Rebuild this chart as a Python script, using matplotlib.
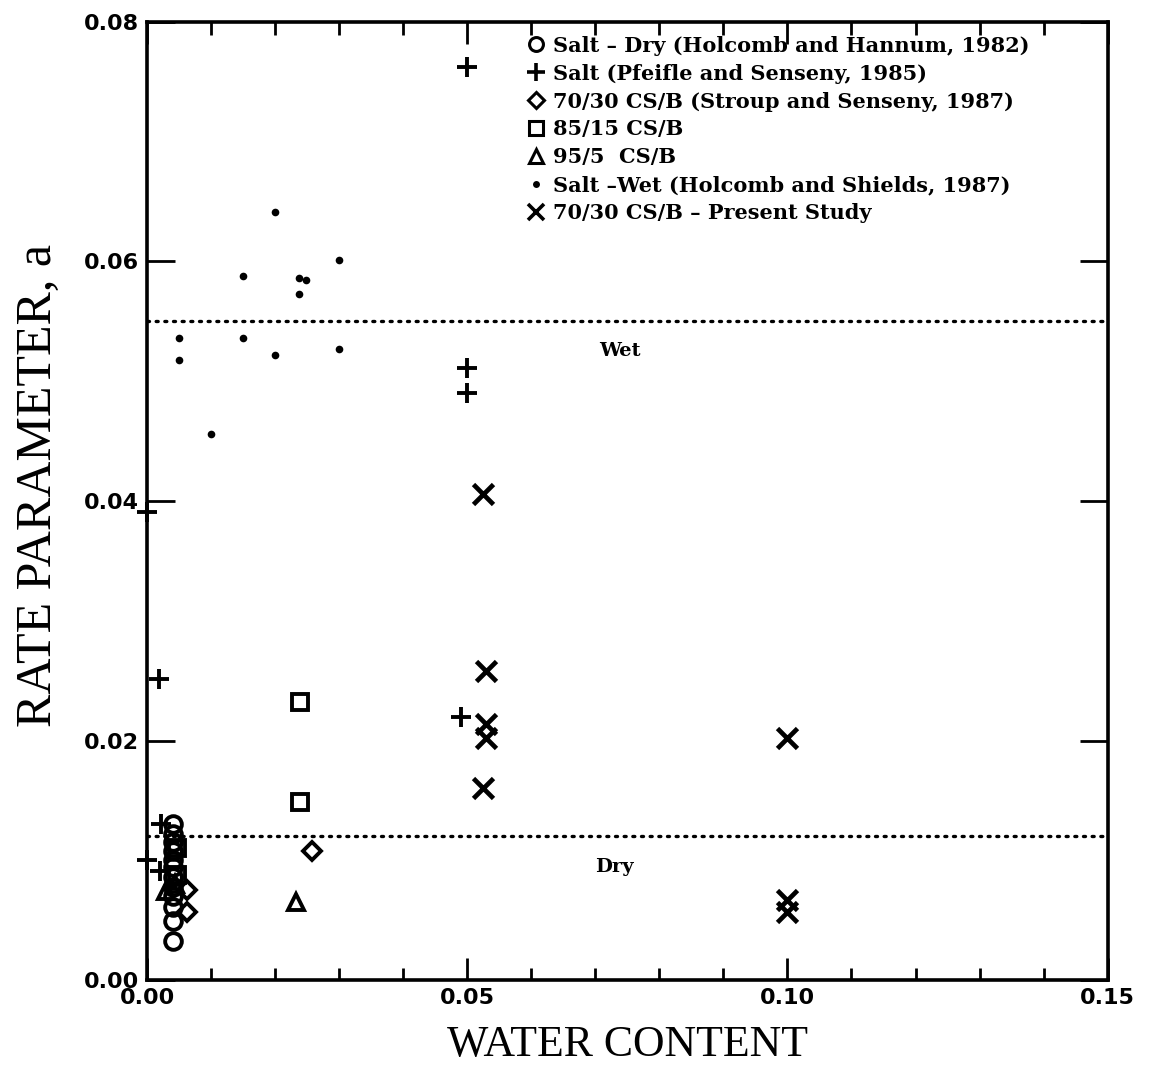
import numpy as np
import matplotlib
matplotlib.use("Agg")
import matplotlib.pyplot as plt
from matplotlib.lines import Line2D
from matplotlib.ticker import MultipleLocator

# Salt - dry (Holcomb and Hannum, 1982)
dry_x = [0.004] * 12
dry_y = [0.0130, 0.0122, 0.0115, 0.0108, 0.0100, 0.0094, 0.0086, 0.0078,
         0.0070, 0.0061, 0.0049, 0.0033]

# Salt (Pfeifle and Senseny, 1985)
pf_x = [0.050, 0.050, 0.050, 0.049, 0.0019, 0.0022, 0.0020, 0.0, 0.0]
pf_y = [0.0762, 0.0511, 0.0490, 0.0220, 0.0251, 0.0130, 0.0091, 0.0391, 0.0100]

# 70/30 CS/B (Stroup and Senseny, 1987)
cs70_x = [0.0062, 0.0062, 0.0258]
cs70_y = [0.0075, 0.0057, 0.0108]

# 85/15 CS/B
cs85_x = [0.0239, 0.0239, 0.0046, 0.0046]
cs85_y = [0.0232, 0.0149, 0.0110, 0.0088]

# 95/5 CS/B
cs95_x = [0.0232, 0.0030, 0.0044]
cs95_y = [0.0065, 0.0074, 0.0080]

# Salt - wet (Holcomb and Shields, 1987)
wet_x = [0.020, 0.030, 0.015, 0.0237, 0.0248, 0.0237, 0.005, 0.015, 0.005,
         0.020, 0.030, 0.010]
wet_y = [0.0641, 0.0601, 0.0588, 0.0586, 0.0584, 0.0573, 0.0536, 0.0536,
         0.0518, 0.0522, 0.0527, 0.0456]

# 70/30 CS/B - present study
ps_x = [0.0524, 0.053, 0.053, 0.053, 0.0524, 0.100, 0.100, 0.100]
ps_y = [0.0406, 0.0258, 0.0214, 0.0202, 0.0160, 0.0202, 0.0067, 0.0057]

wet_level = 0.055
dry_level = 0.012

fig = plt.figure(figsize=(11.49, 10.83), dpi=100)
ax = fig.add_axes([0.128, 0.095, 0.836, 0.885])

kw = dict(linestyle="none", color="black", clip_on=False)
ax.plot(dry_x, dry_y, marker="o", ms=12, mfc="none", mew=2.8, **kw)
ax.plot(pf_x, pf_y, marker="+", ms=15, mew=2.8, **kw)
ax.plot(cs70_x, cs70_y, marker="D", ms=9, mfc="none", mew=2.8, **kw)
ax.plot(cs85_x, cs85_y, marker="s", ms=11, mfc="none", mew=2.8, **kw)
ax.plot(cs95_x, cs95_y, marker="^", ms=11, mfc="none", mew=2.8, **kw)
ax.plot(wet_x, wet_y, marker="o", ms=5.5, mfc="black", mew=0, **kw)
ax.plot(ps_x, ps_y, marker="x", ms=14, mew=3.4, **kw)

# wet and dry reference levels
ax.axhline(wet_level, color="black", lw=2.4, linestyle=(0, (0.6, 2.0)),
           dash_capstyle="round")
ax.axhline(dry_level, color="black", lw=2.4, linestyle=(0, (0.6, 2.0)),
           dash_capstyle="round")
ax.text(0.0738, wet_level - 0.0025, "Wet", fontsize=14, fontweight="bold",
        family="DejaVu Serif", ha="center", va="center")
ax.text(0.0729, dry_level - 0.0026, "Dry", fontsize=14, fontweight="bold",
        family="DejaVu Serif", ha="center", va="center")

ax.set_xlim(0, 0.15)
ax.set_ylim(0, 0.08)
ax.xaxis.set_major_locator(MultipleLocator(0.05))
ax.xaxis.set_minor_locator(MultipleLocator(0.01))
ax.yaxis.set_major_locator(MultipleLocator(0.02))
ax.tick_params(which="both", direction="in", top=True, right=True, width=2,
               labelsize=16, pad=6)
ax.tick_params(axis="x", which="major", length=16)
ax.tick_params(axis="x", which="minor", length=9)
ax.tick_params(axis="y", which="major", length=20)
ax.xaxis.set_major_formatter(lambda v, p: f"{v:.2f}")
ax.yaxis.set_major_formatter(lambda v, p: f"{v:.2f}")
for lab in ax.get_xticklabels() + ax.get_yticklabels():
    lab.set_fontweight("bold")
    lab.set_family("DejaVu Sans")
for sp in ax.spines.values():
    sp.set_linewidth(2.6)

ax.set_xlabel("WATER CONTENT", fontsize=31.5, family="Liberation Serif",
              labelpad=12)
ax.set_ylabel("RATE PARAMETER, a", fontsize=36, family="Liberation Serif")
ax.yaxis.set_label_coords(-0.089, 0.516)

labels = ["Salt \u2013 Dry (Holcomb and Hannum, 1982)",
          "Salt (Pfeifle and Senseny, 1985)",
          "70/30 CS/B (Stroup and Senseny, 1987)",
          "85/15 CS/B",
          "95/5  CS/B",
          "Salt \u2013Wet (Holcomb and Shields, 1987)",
          "70/30 CS/B \u2013 Present Study"]
handles = [
    Line2D([], [], marker="o", ms=10, mfc="none", mew=2.2, **kw),
    Line2D([], [], marker="+", ms=13, mew=2.6, **kw),
    Line2D([], [], marker="D", ms=8, mfc="none", mew=2.2, **kw),
    Line2D([], [], marker="s", ms=10, mfc="none", mew=2.2, **kw),
    Line2D([], [], marker="^", ms=10, mfc="none", mew=2.2, **kw),
    Line2D([], [], marker="o", ms=5, mfc="black", mew=0, **kw),
    Line2D([], [], marker="x", ms=12, mew=2.6, **kw),
]
ax.legend(handles, labels, loc="upper left", bbox_to_anchor=(0.39, 0.994),
          frameon=False, handlelength=0.6, handletextpad=0.5,
          labelspacing=0.38, borderaxespad=0,
          prop={"family": "DejaVu Serif", "weight": "bold", "size": 15})

fig.savefig("out.png", dpi=100)
